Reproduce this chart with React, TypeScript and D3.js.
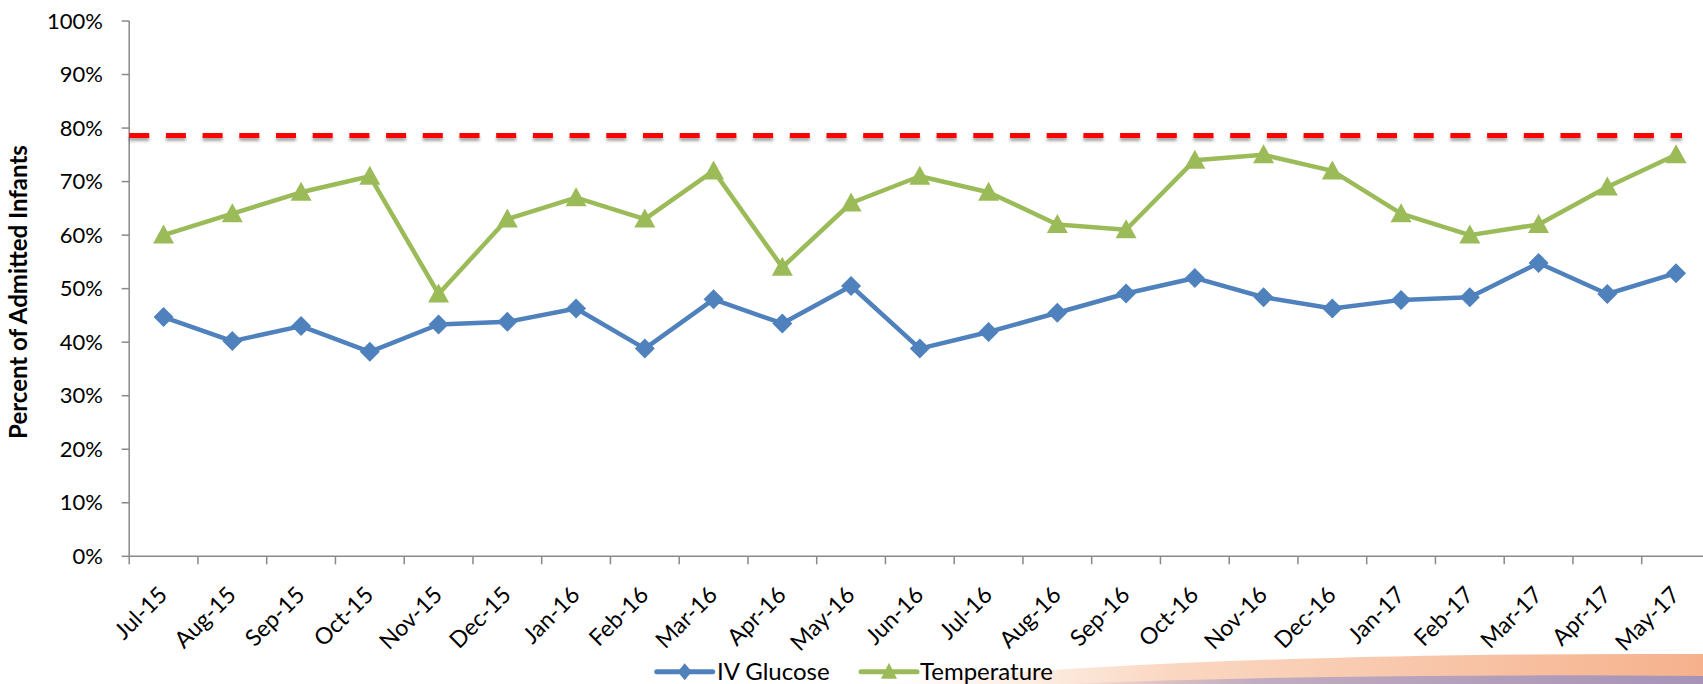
import React from "react";
import * as d3 from "d3";

const months = ["Jul-15","Aug-15","Sep-15","Oct-15","Nov-15","Dec-15","Jan-16","Feb-16","Mar-16","Apr-16","May-16","Jun-16","Jul-16","Aug-16","Sep-16","Oct-16","Nov-16","Dec-16","Jan-17","Feb-17","Mar-17","Apr-17","May-17"];
const ivGlucose = [0.447,0.402,0.430,0.382,0.433,0.438,0.463,0.388,0.480,0.435,0.505,0.388,0.419,0.455,0.491,0.520,0.484,0.463,0.479,0.484,0.548,0.490,0.529];
const temperature = [0.60,0.64,0.68,0.71,0.49,0.63,0.67,0.63,0.72,0.54,0.66,0.71,0.68,0.62,0.61,0.74,0.75,0.72,0.64,0.60,0.62,0.69,0.75];
const target = 0.786;
const yTicks = [0,0.1,0.2,0.3,0.4,0.5,0.6,0.7,0.8,0.9,1.0];
const seriesNames = ["IV Glucose", "Temperature"];

const W = 1703, H = 684;
const X0 = 129.2, BAND = 68.75;
const Y0 = 556.3, Y1 = 21;
const AXIS = "#898989";
const BLUE = "#4F81BD";
const GREEN = "#9BBB59";
const FONT = "Lato, 'Open Sans', sans-serif";

const diamond = (cx: number, cy: number, rx: number, ry: number) =>
  `M${cx},${cy - ry}L${cx + rx},${cy}L${cx},${cy + ry}L${cx - rx},${cy}Z`;
const triangle = (cx: number, cy: number, w: number, up: number, down: number) =>
  `M${cx},${cy - up}L${cx + w / 2},${cy + down}L${cx - w / 2},${cy + down}Z`;

export default function App() {
  const x = d3.scaleBand<string>().domain(months).range([X0, X0 + months.length * BAND]);
  const y = d3.scaleLinear().domain([0, 1]).range([Y0, Y1]);
  const cx = (m: string) => (x(m) as number) + x.bandwidth() / 2;
  const line = d3.line<number>().x((_, i) => cx(months[i])).y((v) => y(v));
  const boundaries = d3.range(months.length + 1).map((i) => X0 + i * x.bandwidth());

  return (
    <svg width={W} height={H} style={{ position: "absolute", left: 0, top: 0, background: "#fff" }}>
      <defs>
        <filter id="sh" filterUnits="userSpaceOnUse" x={0} y={0} width={W} height={H}>
          <feDropShadow dx="0" dy="3" stdDeviation="1.6" floodColor="#000" floodOpacity="0.35" />
        </filter>
        <linearGradient id="orange" x1="0" x2="1" y1="0" y2="0">
          <stop offset="0" stopColor="#FBD9C4" stopOpacity="0" />
          <stop offset="0.35" stopColor="#F9CDB2" stopOpacity="0.8" />
          <stop offset="1" stopColor="#F6B18C" stopOpacity="1" />
        </linearGradient>
        <linearGradient id="purple" x1="0" x2="1" y1="0" y2="0">
          <stop offset="0" stopColor="#A99CC4" stopOpacity="0" />
          <stop offset="0.3" stopColor="#A99CC4" stopOpacity="0.7" />
          <stop offset="1" stopColor="#9D90BC" stopOpacity="0.9" />
        </linearGradient>
      </defs>
      <rect width={W} height={H} fill="#fff" />
      {/* decorative swoosh */}
      <path d={`M880,684 Q1200,652 1703,654 L1703,684 Z`} fill="url(#orange)" />
      <path d={`M1060,684 Q1350,673 1703,676 L1703,684 Z`} fill="url(#purple)" />

      {/* axes */}
      <line x1={X0} x2={X0} y1={Y1} y2={Y0} stroke={AXIS} strokeWidth={1.5} />
      <line x1={X0} x2={W} y1={Y0} y2={Y0} stroke={AXIS} strokeWidth={1.5} />
      {yTicks.map((t) => (
        <g key={t}>
          <line x1={X0 - 7.5} x2={X0} y1={y(t)} y2={y(t)} stroke={AXIS} strokeWidth={1.5} />
          <text x={103} y={y(t)} dy="0.35em" textAnchor="end" fontFamily={FONT} fontSize={22} fill="#000">
            {d3.format(".0%")(t)}
          </text>
        </g>
      ))}
      {boundaries.map((b, i) => (
        <line key={i} x1={b} x2={b} y1={Y0} y2={Y0 + 8} stroke={AXIS} strokeWidth={1.5} />
      ))}
      {months.map((m) => (
        <text
          key={m}
          transform={`translate(${cx(m) + 5},${Y0 + 40}) rotate(-45)`}
          textAnchor="end"
          fontFamily={FONT}
          fontSize={23}
          fill="#000"
        >
          {m}
        </text>
      ))}
      <text
        transform={`translate(27,292) rotate(-90)`}
        textAnchor="middle"
        fontFamily={FONT}
        fontWeight="bold"
        fontSize={24}
        fill="#000"
      >
        Percent of Admitted Infants
      </text>

      {/* target line */}
      <line
        x1={X0}
        x2={1682}
        y1={y(target)}
        y2={y(target)}
        stroke="#FF0000"
        strokeWidth={5}
        strokeDasharray="20 16.7"
        filter="url(#sh)"
      />

      {/* series */}
      <path d={line(ivGlucose) || ""} fill="none" stroke={BLUE} strokeWidth={4.5} strokeLinejoin="round" />
      {ivGlucose.map((v, i) => (
        <path key={i} d={diamond(cx(months[i]), y(v), 10, 10)} fill={BLUE} />
      ))}
      <path d={line(temperature) || ""} fill="none" stroke={GREEN} strokeWidth={4.5} strokeLinejoin="round" />
      {temperature.map((v, i) => (
        <path key={i} d={triangle(cx(months[i]), y(v), 21, 10.5, 8.5)} fill={GREEN} />
      ))}

      {/* legend */}
      <line x1={656.7} x2={712.7} y1={671.7} y2={671.7} stroke={BLUE} strokeWidth={5} strokeLinecap="round" />
      <path d={diamond(684.7, 671.7, 7, 8.5)} fill={BLUE} />
      <text x={717} y={680} fontFamily={FONT} fontSize={24} fill="#000">{seriesNames[0]}</text>
      <line x1={861} x2={917} y1={671.7} y2={671.7} stroke={GREEN} strokeWidth={5} strokeLinecap="round" />
      <path d={triangle(889, 671.7, 16, 9, 7)} fill={GREEN} />
      <text x={920} y={680} fontFamily={FONT} fontSize={24} fill="#000">{seriesNames[1]}</text>
    </svg>
  );
}
